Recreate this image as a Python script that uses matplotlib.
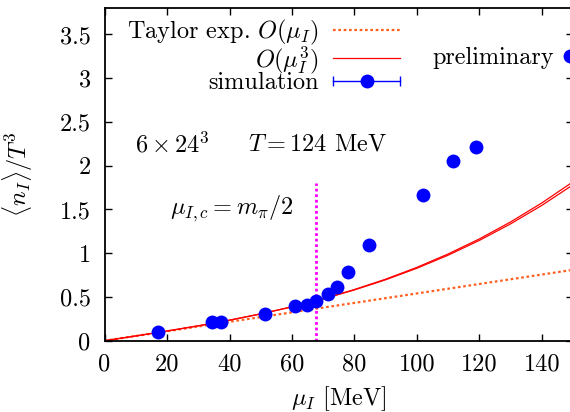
import matplotlib
matplotlib.use("Agg")
from matplotlib import pyplot as plt
from matplotlib.lines import Line2D
from matplotlib.legend_handler import HandlerLine2D, HandlerTuple

# simulation points
mu_sim = [17.2, 34.3, 37.3, 51.4, 61.0, 64.7, 67.7, 71.5, 74.3, 78.1, 84.8, 101.9, 111.7, 119.0]
n_sim = [0.10, 0.21, 0.21, 0.31, 0.40, 0.41, 0.45, 0.53, 0.61, 0.78, 1.09, 1.66, 2.05, 2.21]

# Taylor expansion O(mu_I)
mu_lin = [0, 150]
n_lin = [0.0, 0.81]

# Taylor expansion O(mu_I^3), two close curves
mu_cub = [0, 10, 20, 30, 40, 50, 60, 70, 80, 90, 100, 110, 120, 130, 140, 150]
n_cub_lo = [0.0, 0.0543, 0.110, 0.170, 0.234, 0.306, 0.386, 0.477, 0.580, 0.696, 0.828,
            0.977, 1.146, 1.335, 1.546, 1.782]
n_cub_hi = [0.0, 0.0543, 0.111, 0.170, 0.235, 0.307, 0.388, 0.480, 0.585, 0.703, 0.838,
            0.991, 1.163, 1.357, 1.574, 1.816]

# mu_I,c = m_pi / 2
mu_c = 67.7
mu_c_top = 1.8

xticks = [0, 20, 40, 60, 80, 100, 120, 140]
yticks = [0, 0.5, 1, 1.5, 2, 2.5, 3, 3.5]

plt.rcParams["font.family"] = "serif"
plt.rcParams["font.serif"] = ["cmr10"]
plt.rcParams["mathtext.fontset"] = "cm"
plt.rcParams["axes.unicode_minus"] = False
plt.rcParams["axes.formatter.use_mathtext"] = True
plt.rcParams["font.size"] = 17.5

fig = plt.figure(figsize=(5.7, 4.12), dpi=100)
ax = fig.add_axes([104.6 / 570, (412 - 340.7) / 412, (573 - 104.6) / 570, (340.7 - 8.2) / 412])

taylor1, = ax.plot(mu_lin, n_lin, color="#ff6020", lw=1.6, dashes=(1.2, 1.2))
cubic, = ax.plot(mu_cub, n_cub_lo, color="red", lw=0.9)
ax.plot(mu_cub, n_cub_hi, color="red", lw=0.9)
ax.plot(mu_sim, n_sim, ls="none", marker="o", color="blue", ms=10, mew=0, zorder=5)
ax.plot([mu_c, mu_c], [0, mu_c_top], color="#ff00ff", lw=2, dashes=(1, 1))

ax.text(9.7, 2.24, r"$6\times 24^3$", va="center", ha="left")
ax.text(46, 2.24, r"$T=124$ MeV", va="center", ha="left")
ax.text(21, 1.51, r"$\mu_{I,c}=m_\pi/2$", va="center", ha="left")

ax.set_xlim(0, 150)
ax.set_ylim(0, 3.8)
ax.set_xticks(xticks)
ax.set_yticks(yticks)
ax.set_xticklabels([str(t) for t in xticks])
ax.set_yticklabels(["%g" % t for t in yticks])
ax.tick_params(direction="in", length=5, width=1, top=True, right=True)
ax.tick_params(axis="y", pad=10)
ax.tick_params(axis="x", pad=9)
for s in ax.spines.values():
    s.set_linewidth(1.3)

ax.set_xlabel(r"$\mu_I$ [MeV]")
ax.set_ylabel(r"$\langle n_I \rangle / T^3$")
ax.xaxis.set_label_coords(0.5, -0.13)
ax.yaxis.set_label_coords(-0.148, 0.5)

# legend in gnuplot style: label first, then the key
cap_line = Line2D([], [], color="blue", lw=1, marker="|", ms=7, mew=1)
dot = Line2D([], [], ls="none", marker="o", color="blue", ms=10, mew=0)
leg1 = ax.legend([taylor1, cubic, (cap_line, dot)],
                 [r"Taylor exp. $O(\mu_I)$", r"$O(\mu_I^3)$", "simulation"],
                 handler_map={cap_line: HandlerLine2D(numpoints=2, marker_pad=0),
                              tuple: HandlerTuple(ndivide=1, pad=0)},
                 loc="upper right", bbox_to_anchor=(0.6307, 0.97), markerfirst=False,
                 frameon=False, handlelength=2.75, handletextpad=0.6, labelspacing=-0.14,
                 borderpad=0, borderaxespad=0)
ax.add_artist(leg1)

prelim = Line2D([], [], ls="none", marker="o", color="blue", ms=10, mew=0)
ax.legend([prelim], ["preliminary"], loc="center right", bbox_to_anchor=(1.0086, 0.85),
          markerfirst=False, frameon=False, handlelength=0.6, handletextpad=0.35,
          borderpad=0, borderaxespad=0)

fig.savefig("out.png", dpi=100)
